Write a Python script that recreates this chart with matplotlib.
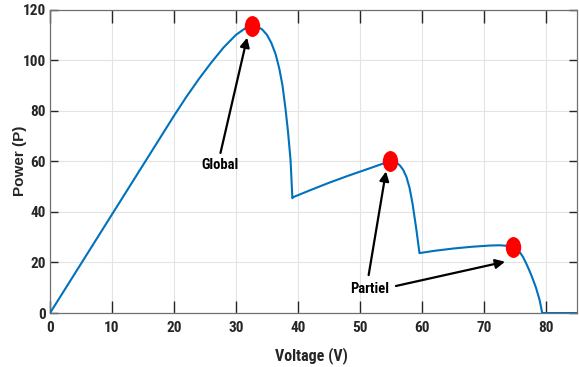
import numpy as np
import matplotlib
matplotlib.use('Agg')
import matplotlib.pyplot as plt
from matplotlib.path import Path
from matplotlib.transforms import Affine2D

# P-V curve
voltage = [0, 10, 20, 22, 24, 26, 28, 30, 31.5, 32.6,
           33.4, 34.2, 35.0, 35.7, 36.4, 37.0, 37.5, 38.0, 38.4, 38.8, 39.1,
           39.2, 42, 45, 48, 50, 52, 53.5, 54.3, 54.8, 55.5, 56.0, 56.5, 57.0, 57.5, 58.0, 58.5, 59.1, 59.6,
           62, 65, 68, 71, 72.5, 73.7, 74.7, 75.3, 75.8, 76.3, 76.8, 77.3, 77.8, 78.4, 79.0, 79.4, 85]
power = [0, 39, 78, 85.5, 92.5, 99, 105, 110, 112.6, 113.5,
         113.2, 112.2, 110.0, 106.8, 102.3, 96.5, 90.0, 80.5, 71.5, 60.5, 45.4,
         45.8, 48.6, 51.5, 54.2, 55.9, 57.6, 58.9, 59.6, 60, 59.9, 59.3, 58.2, 56.5, 53.8, 49.5, 43, 33, 23.7,
         24.6, 25.5, 26.2, 26.7, 26.8, 26.6, 26, 25.2, 24, 22.2, 19.7, 17.0, 14.0, 10.0, 5, 0, 0]

peak_v = [32.6, 54.8, 74.7]
peak_p = [113.5, 60, 26]

narrow = ['Roboto Condensed', 'Asap Condensed', 'DejaVu Sans']

fig = plt.figure(figsize=(5.79, 3.67), dpi=100)
ax = fig.add_axes([0.0864, 0.147, 0.91, 0.827])

ax.plot(voltage, power, color='#0072BD', linewidth=1.5, zorder=3)

# elliptical marker like the original
ell = Path.unit_circle().transformed(Affine2D().scale(0.72, 1.0))
ax.plot(peak_v, peak_p, linestyle='none', marker=ell, markersize=14,
        color='red', markeredgecolor='red', zorder=4)

ax.set_xlim(0, 85)
ax.set_ylim(0, 120)
ax.set_xticks(np.arange(0, 81, 10))
ax.set_yticks(np.arange(0, 121, 20))
ax.grid(True, color='#e3e3e3', linewidth=0.8)
ax.set_axisbelow(True)

for s in ax.spines.values():
    s.set_color('#707070')
    s.set_linewidth(0.9)

ax.tick_params(axis='x', direction='in', top=True, length=9, width=1.0, color='#262626', pad=6)
ax.tick_params(axis='y', direction='in', right=True, length=6, width=1.0, color='#262626', pad=3)
for lab in ax.get_xticklabels() + ax.get_yticklabels():
    lab.set_family(narrow)
    lab.set_fontweight('bold')
    lab.set_fontsize(11)
    lab.set_color('#262626')

ax.set_xlabel('Voltage (V)', family=narrow, fontweight='bold', fontsize=11.5, color='#262626')
ax.xaxis.set_label_coords(0.497, -0.112)
ax.set_ylabel('Power (P)', family=['Liberation Sans', 'DejaVu Sans'],
              fontweight='bold', fontsize=11, color='#262626')
ax.yaxis.set_label_coords(-0.044, 0.503)

arrow = dict(arrowstyle='-|>', color='black', lw=1.6, mutation_scale=14, shrinkA=0, shrinkB=0)
ax.annotate('', xy=(31.8, 108.9), xytext=(27.5, 63.3), arrowprops=arrow)
ax.text(27.5, 58.6, 'Global', ha='center', va='center', fontsize=10.5,
        family=narrow, fontweight='bold')

ax.annotate('', xy=(54.2, 56), xytext=(51.4, 15), arrowprops=arrow)
ax.annotate('', xy=(73.4, 20.3), xytext=(55.8, 10.7), arrowprops=arrow)
ax.text(51.6, 9.7, 'Partiel', ha='center', va='center', fontsize=10.5,
        family=narrow, fontweight='bold')

fig.savefig('out.png', dpi=100)
